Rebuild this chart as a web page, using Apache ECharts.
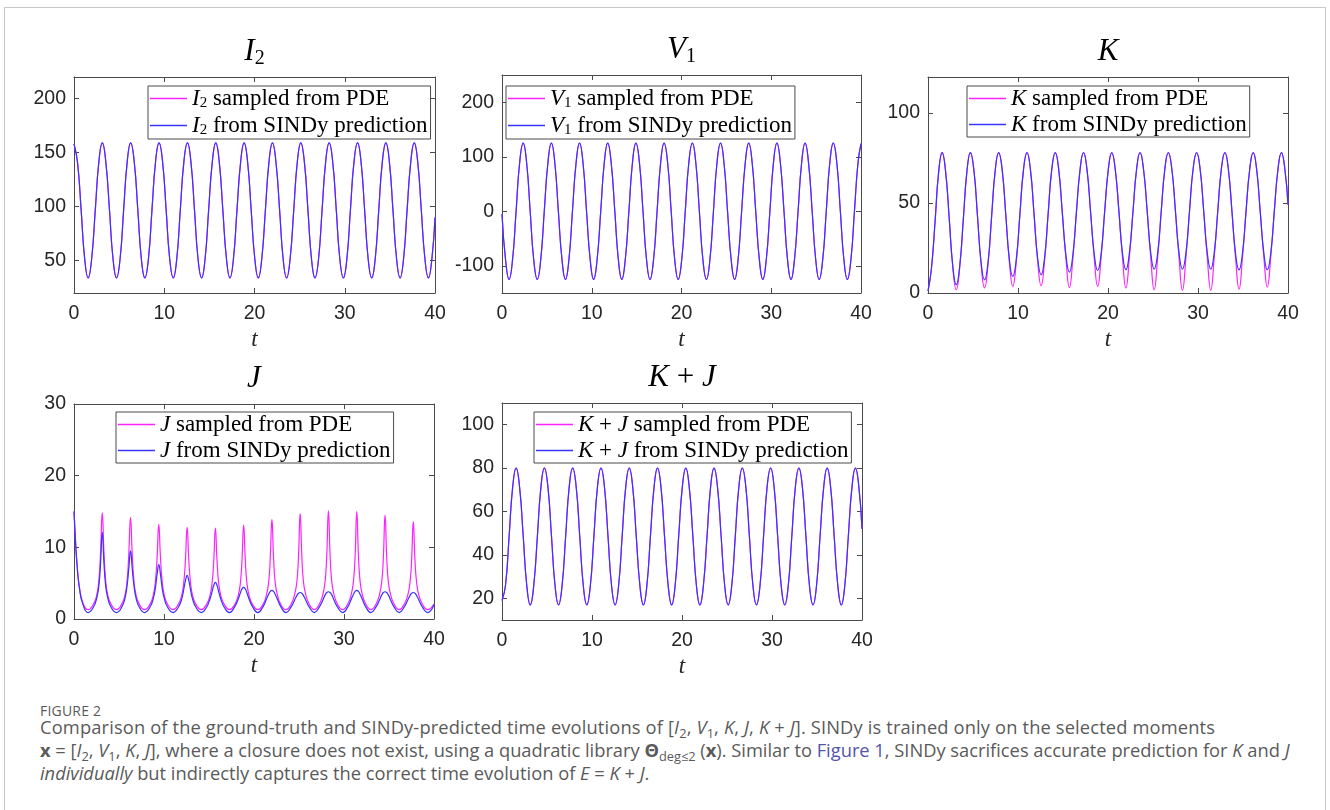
<!DOCTYPE html>
<html>
<head>
<meta charset="utf-8">
<script src="https://cdn.jsdelivr.net/npm/echarts@6/dist/echarts.min.js"></script>
<style>
html,body{margin:0;padding:0;background:#fff;}
body{width:1330px;height:810px;position:relative;overflow:hidden;}
#frame{position:absolute;left:4px;top:7px;width:1322px;height:900px;border:1px solid #c9c9c9;box-sizing:border-box;}
#chart{position:absolute;left:0;top:0;width:1330px;height:690px;}
#cap{position:absolute;left:40px;top:703px;font-family:'Open Sans',sans-serif;color:#5a5a5a;}
#cap .fig{font-size:14px;line-height:16px;letter-spacing:0.2px;margin-bottom:-4px;}
#cap .ln{font-size:18.3px;line-height:23px;white-space:nowrap;}
#cap .ln1{letter-spacing:0.15px;}
#cap sub{font-size:0.7em;vertical-align:-0.28em;line-height:0;}
#cap .lk{color:#5256a8;}
</style>
</head>
<body>
<div id="frame"></div>
<div id="chart"></div>
<div id="cap">
<div class="fig">FIGURE 2</div>
<div class="ln ln1">Comparison of the ground-truth and SINDy-predicted time evolutions of [<i>I</i><sub>2</sub>, <i>V</i><sub>1</sub>, <i>K</i>, <i>J</i>, <i>K</i> + <i>J</i>]. SINDy is trained only on the selected moments</div>
<div class="ln"><b>x</b> = [<i>I</i><sub>2</sub>, <i>V</i><sub>1</sub>, <i>K</i>, <i>J</i>], where a closure does not exist, using a quadratic library <b>Θ</b><sub>deg≤2</sub> (<b>x</b>). Similar to <span class="lk">Figure 1</span>, SINDy sacrifices accurate prediction for <i>K</i> and <i>J</i></div>
<div class="ln"><i>individually</i> but indirectly captures the correct time evolution of <i>E</i> = <i>K</i> + <i>J</i>.</div>
</div>
<script>
// ---------------- DATA ----------------
// time samples for the sinusoid-like panels (I2, V1, K, K+J)
const tS = [0.00,0.39,0.79,1.18,1.57,1.96,2.36,2.75,3.14,3.53,3.93,4.32,4.71,5.11,5.50,5.89,
6.28,6.68,7.07,7.46,7.85,8.25,8.64,9.03,9.42,9.82,10.21,10.60,11.00,11.39,11.78,12.17,
12.57,12.96,13.35,13.74,14.14,14.53,14.92,15.32,15.71,16.10,16.49,16.89,17.28,17.67,18.06,18.46,
18.85,19.24,19.63,20.03,20.42,20.81,21.21,21.60,21.99,22.38,22.78,23.17,23.56,23.95,24.35,24.74,
25.13,25.53,25.92,26.31,26.70,27.10,27.49,27.88,28.27,28.67,29.06,29.45,29.85,30.24,30.63,31.02,
31.42,31.81,32.20,32.59,32.99,33.38,33.77,34.16,34.56,34.95,35.34,35.74,36.13,36.52,36.91,37.31,
37.70,38.09,38.48,38.88,39.27,39.66,40.00];

const i2Pde = [158,141,97,52,34,52,97,141, 159,141,97,52,34,52,97,141, 159,141,97,52,34,52,97,141,
159,141,97,52,34,52,97,141, 159,141,97,52,34,52,97,141, 159,141,97,52,34,52,97,141,
159,141,97,52,34,52,97,141, 159,141,97,52,34,52,97,141, 159,141,97,52,34,52,97,141,
159,141,97,52,34,52,97,141, 159,141,97,52,34,52,97,141, 159,141,97,52,34,52,97,141,
159,141,97,52,34,52, 90];
const i2Sindy = [158,141,97,52,34,52,97,141, 159,141,97,52,34,52,97,141, 159,141,97,52,34,52,97,141,
159,141,97,52,34,52,97,141, 159,141,97,52,34,52,97,141, 159,141,97,52,34,52,97,141,
159,141,97,52,34,52,97,141, 159,141,97,52,34,52,97,141, 159,141,97,52,34,52,97,141,
159,141,97,52,34,52,97,141, 159,141,97,52,34,52,97,141, 159,141,97,52,34,52,97,141,
159,141,97,52,34,52, 90];

const v1Pde = [-5,-88,-125,-88,0,88,125,88, 0,-88,-125,-88,0,88,125,88, 0,-88,-125,-88,0,88,125,88,
0,-88,-125,-88,0,88,125,88, 0,-88,-125,-88,0,88,125,88, 0,-88,-125,-88,0,88,125,88,
0,-88,-125,-88,0,88,125,88, 0,-88,-125,-88,0,88,125,88, 0,-88,-125,-88,0,88,125,88,
0,-88,-125,-88,0,88,125,88, 0,-88,-125,-88,0,88,125,88, 0,-88,-125,-88,0,88,125,88,
0,-88,-125,-88,0,88, 124];
const v1Sindy = [-5,-88,-125,-88,0,88,125,88, 0,-88,-125,-88,0,88,125,88, 0,-88,-125,-88,0,88,125,88,
0,-88,-125,-88,0,88,125,88, 0,-88,-125,-88,0,88,125,88, 0,-88,-125,-88,0,88,125,88,
0,-88,-125,-88,0,88,125,88, 0,-88,-125,-88,0,88,125,88, 0,-88,-125,-88,0,88,125,88,
0,-88,-125,-88,0,88,125,88, 0,-88,-125,-88,0,88,125,88, 0,-88,-125,-88,0,88,125,88,
0,-88,-125,-88,0,88, 124];

const kPde = [1,14,40,67,78,67.3,41.3,14.5,
1.8,14.5,41.3,67.3,78,67.7,42.6,16.5,
2.8,16.5,42.6,67.7,78,68.0,43.6,18.0,
3.7,18.0,43.6,68.0,78,68.1,44.0,18.5,
4.0,18.5,44.0,68.1,78,68.3,44.8,19.5,
3.0,19.5,44.8,68.3,78,68.4,45.3,20.2,
3.7,20.2,45.3,68.4,78,68.5,45.5,20.4,
2.8,20.4,45.5,68.5,78,68.6,45.7,20.5,
1.8,20.5,45.7,68.6,78,68.6,45.7,20.5,
1.5,20.5,45.7,68.6,78,68.6,45.7,20.5,
1.5,20.5,45.7,68.6,78,68.5,45.5,20.4,
2.2,20.4,45.5,68.5,78,68.5,45.5,20.4,
3.3,20.4,45.5,68.5,78,68.5, 49];
const kSindy = [1,14,40,67,78,67.3,41.3,15.3,
4.6,15.3,41.3,67.3,78,67.7,42.6,17.6,
7.3,17.6,42.6,67.7,78,68.0,43.6,19.2,
9.2,19.2,43.6,68.0,78,68.1,44.0,20.0,
10.1,20.0,44.0,68.1,78,68.3,44.8,21.3,
11.6,21.3,44.8,68.3,78,68.4,45.3,22.1,
12.5,22.1,45.3,68.4,78,68.5,45.5,22.4,
12.9,22.4,45.5,68.5,78,68.6,45.7,22.7,
13.3,22.7,45.7,68.6,78,68.6,45.7,22.7,
13.3,22.7,45.7,68.6,78,68.6,45.7,22.7,
13.3,22.7,45.7,68.6,78,68.5,45.5,22.4,
12.9,22.4,45.5,68.5,78,68.5,45.5,22.4,
12.9,22.4,45.5,68.5,78,68.5, 49];

const kjPde = [19,26,48.5,71,80,71,48.5,26, 17,26,48.5,71,80,71,48.5,26, 17,26,48.5,71,80,71,48.5,26,
17,26,48.5,71,80,71,48.5,26, 17,26,48.5,71,80,71,48.5,26, 17,26,48.5,71,80,71,48.5,26,
17,26,48.5,71,80,71,48.5,26, 17,26,48.5,71,80,71,48.5,26, 17,26,48.5,71,80,71,48.5,26,
17,26,48.5,71,80,71,48.5,26, 17,26,48.5,71,80,71,48.5,26, 17,26,48.5,71,80,71,48.5,26,
17,26,48.5,71,80,71, 52];
const kjSindy = [19,26,48.5,71,80,71,48.5,26, 17,26,48.5,71,80,71,48.5,26, 17,26,48.5,71,80,71,48.5,26,
17,26,48.5,71,80,71,48.5,26, 17,26,48.5,71,80,71,48.5,26, 17,26,48.5,71,80,71,48.5,26,
17,26,48.5,71,80,71,48.5,26, 17,26,48.5,71,80,71,48.5,26, 17,26,48.5,71,80,71,48.5,26,
17,26,48.5,71,80,71,48.5,26, 17,26,48.5,71,80,71,48.5,26, 17,26,48.5,71,80,71,48.5,26,
17,26,48.5,71,80,71, 52];

// time samples for the spiky J panel (denser around the peaks)
const tJ = [0,0.18,0.35,0.6,1.0,1.57,
2.14,2.54,2.79,2.96,3.14,3.32,3.49,3.74,4.14,4.71,
5.28,5.68,5.93,6.10,6.28,6.46,6.63,6.88,7.28,7.85,
8.42,8.82,9.07,9.24,9.42,9.60,9.77,10.02,10.42,11.00,
11.57,11.97,12.22,12.39,12.57,12.75,12.92,13.17,13.57,14.14,
14.71,15.11,15.36,15.53,15.71,15.89,16.06,16.31,16.71,17.28,
17.85,18.25,18.50,18.67,18.85,19.03,19.20,19.45,19.85,20.42,
20.99,21.39,21.64,21.81,21.99,22.17,22.34,22.59,22.99,23.56,
24.13,24.53,24.78,24.95,25.13,25.31,25.48,25.73,26.13,26.70,
27.27,27.67,27.92,28.09,28.27,28.45,28.62,28.87,29.27,29.85,
30.42,30.82,31.07,31.24,31.42,31.60,31.77,32.02,32.42,32.99,
33.56,33.96,34.21,34.38,34.56,34.74,34.91,35.16,35.56,36.13,
36.70,37.10,37.35,37.52,37.70,37.88,38.05,38.30,38.70,39.27,
40];
const jPde = [15.0,10.8,7.5,4.5,2.2,1.3,
2.0,3.4,5.8,9.6,14.8,9.6,5.8,3.4,2.0,1.3,
2.0,3.4,5.8,9.4,14.2,9.4,5.8,3.4,2.0,1.3,
2.0,3.4,5.6,8.8,13.2,8.8,5.6,3.4,2.0,1.3,
2.0,3.3,5.4,8.4,12.8,8.4,5.4,3.3,2.0,1.3,
2.0,3.3,5.2,8.2,12.7,8.2,5.2,3.3,2.0,1.3,
2.0,3.3,5.2,8.3,13.1,8.3,5.2,3.3,2.0,1.3,
2.0,3.4,5.3,8.6,13.9,8.6,5.3,3.4,2.0,1.3,
2.1,3.5,5.4,8.9,14.7,8.9,5.4,3.5,2.1,1.3,
2.1,3.5,5.5,9.1,15.1,9.1,5.5,3.5,2.1,1.3,
2.1,3.5,5.5,9.0,15.0,9.0,5.5,3.5,2.1,1.3,
2.1,3.5,5.4,8.8,14.5,8.8,5.4,3.5,2.1,1.3,
2.1,3.4,5.3,8.4,13.6,8.4,5.3,3.4,2.1,1.3,
2.1];
const jSindy = [15.0,10.5,7.3,4.3,2.0,0.9,
1.6,3.0,5.0,8.0,12.1,8.0,5.0,3.0,1.6,0.9,
1.6,3.0,5.0,7.2,9.5,7.2,5.0,3.0,1.6,0.9,
1.6,2.9,4.6,6.3,7.6,6.3,4.6,2.9,1.6,0.9,
1.6,2.8,4.3,5.4,6.1,5.4,4.3,2.8,1.6,0.9,
1.6,2.8,3.9,4.7,5.1,4.7,3.9,2.8,1.6,0.9,
1.7,2.8,3.7,4.2,4.4,4.2,3.7,2.8,1.7,0.9,
1.7,2.8,3.5,3.85,4.0,3.85,3.5,2.8,1.7,0.9,
1.7,2.7,3.3,3.6,3.7,3.6,3.3,2.7,1.7,0.9,
1.7,2.7,3.4,3.7,3.8,3.7,3.4,2.7,1.7,0.9,
1.7,2.8,3.5,3.85,4.0,3.85,3.5,2.8,1.7,0.9,
1.7,2.7,3.4,3.7,3.8,3.7,3.4,2.7,1.7,0.9,
1.7,2.7,3.3,3.6,3.7,3.6,3.3,2.7,1.7,0.9,
2.0];

// axis ranges and tick labels
const xTicks = [0,10,20,30,40];
const yRanges = [[20,220],[-150,250],[0,120],[0,30],[10,110]];
const yTicks = [[50,100,150,200],[-100,0,100,200],[0,50,100],[0,10,20,30],[20,40,60,80,100]];
const panelTitles = ['{it|I}{sub|2}','{it|V}{sub|1}','{it|K}','{it|J}','{it|K}{rm| + }{it|J}'];
const legendPde = ['{it|I}{sub|2}{rm| sampled from PDE}','{it|V}{sub|1}{rm| sampled from PDE}','{it|K}{rm| sampled from PDE}','{it|J}{rm| sampled from PDE}','{it|K}{rm| + }{it|J}{rm| sampled from PDE}'];
const legendSindy = ['{it|I}{sub|2}{rm| from SINDy prediction}','{it|V}{sub|1}{rm| from SINDy prediction}','{it|K}{rm| from SINDy prediction}','{it|J}{rm| from SINDy prediction}','{it|K}{rm| + }{it|J}{rm| from SINDy prediction}'];

// ---------------- LAYOUT ----------------
const grids = [
  {left:74, top:77, width:361, height:216},
  {left:502, top:75, width:359, height:218},
  {left:928, top:77, width:360, height:216},
  {left:74, top:404, width:360, height:215},
  {left:502, top:403, width:360, height:217}
];
const legendPos = [[148,86],[506,86],[967,86],[116,412],[534,412]];
const panelData = [
  [tS,i2Pde,i2Sindy],[tS,v1Pde,v1Sindy],[tS,kPde,kSindy],[tJ,jPde,jSindy],[tS,kjPde,kjSindy]
];

const AX = '#4a4a4a', LBL = '#262626';
const MAG = '#ff22ff', BLU = '#3535ff';
const serif = "'Liberation Serif','Times New Roman',serif";
const sans = "'Liberation Sans',Arial,sans-serif";
const rich = (big, small, lh, subLh) => ({
  it:{fontFamily:serif, fontStyle:'italic', fontSize:big, lineHeight:lh, color:'#000'},
  rm:{fontFamily:serif, fontSize:big, lineHeight:lh, color:'#000'},
  sub:{fontFamily:serif, fontSize:small, lineHeight:subLh, verticalAlign:'bottom', color:'#000'}
});
const pairs = (t, v) => t.map((x, i) => [x, v[i]]);

const option = {animation:false, grid:[], xAxis:[], yAxis:[], legend:[], series:[]};
const nameMap = {};
grids.forEach((g, i) => {
  option.grid.push(Object.assign({outerBoundsMode:'none', containLabel:false}, g));
  const tick = {show:true, inside:true, length:5, lineStyle:{color:AX, width:1}};
  const line = {show:true, onZero:false, lineStyle:{color:AX, width:1}};
  option.xAxis.push({gridIndex:i, type:'value', position:'bottom', min:0, max:40, interval:10,
    axisLine:line, axisTick:tick, splitLine:{show:false},
    axisLabel:{color:LBL, fontSize:19.5, fontFamily:sans, margin:11, customValues:xTicks},
    name:'t', nameLocation:'middle', nameGap:35,
    nameTextStyle:{fontFamily:serif, fontStyle:'italic', fontSize:23, color:LBL}});
  option.xAxis.push({gridIndex:i, type:'value', position:'top', min:0, max:40, interval:10,
    axisLine:line, axisTick:Object.assign({customValues:xTicks}, tick), splitLine:{show:false}, axisLabel:{show:false},
    name:panelTitles[i], nameLocation:'middle', nameGap:8,
    nameTextStyle:{rich:rich(31,20,34,17)}});
  const yr = yRanges[i];
  option.yAxis.push({gridIndex:i, type:'value', position:'left', min:yr[0], max:yr[1],
    axisLine:line, axisTick:Object.assign({}, tick, {customValues:yTicks[i]}), splitLine:{show:false},
    axisLabel:{color:LBL, fontSize:19.5, fontFamily:sans, margin:8, customValues:yTicks[i]}});
  option.yAxis.push({gridIndex:i, type:'value', position:'right', min:yr[0], max:yr[1],
    axisLine:line, axisTick:Object.assign({}, tick, {customValues:yTicks[i]}), splitLine:{show:false},
    axisLabel:{show:false}});
  const [t, pde, sindy] = panelData[i];
  const nP = 'pde' + i, nS = 'sindy' + i;
  nameMap[nP] = legendPde[i]; nameMap[nS] = legendSindy[i];
  option.series.push({name:nP, type:'line', xAxisIndex:2*i, yAxisIndex:2*i, data:pairs(t, pde),
    symbol:'none', showSymbol:false, smooth:0.5, color:MAG,
    itemStyle:{color:MAG}, lineStyle:{color:MAG, width:1.2}, z:2});
  option.series.push({name:nS, type:'line', xAxisIndex:2*i, yAxisIndex:2*i, data:pairs(t, sindy),
    symbol:'none', showSymbol:false, smooth:0.5, color:BLU,
    itemStyle:{color:BLU}, lineStyle:{color:BLU, width:1.2}, z:3});
  option.legend.push({data:[nP, nS], orient:'vertical', left:legendPos[i][0], top:legendPos[i][1],
    selectedMode:false, backgroundColor:'#fff', borderColor:AX, borderWidth:1, borderRadius:0,
    padding:[1,3,1,2], icon:'rect', itemWidth:37, itemHeight:1.3, itemGap:3,
    formatter:(n) => nameMap[n],
    textStyle:{rich:rich(23,15,25,13)}});
});

const chart = echarts.init(document.getElementById('chart'), null, {renderer:'canvas'});
chart.setOption(option);
</script>
</body>
</html>
